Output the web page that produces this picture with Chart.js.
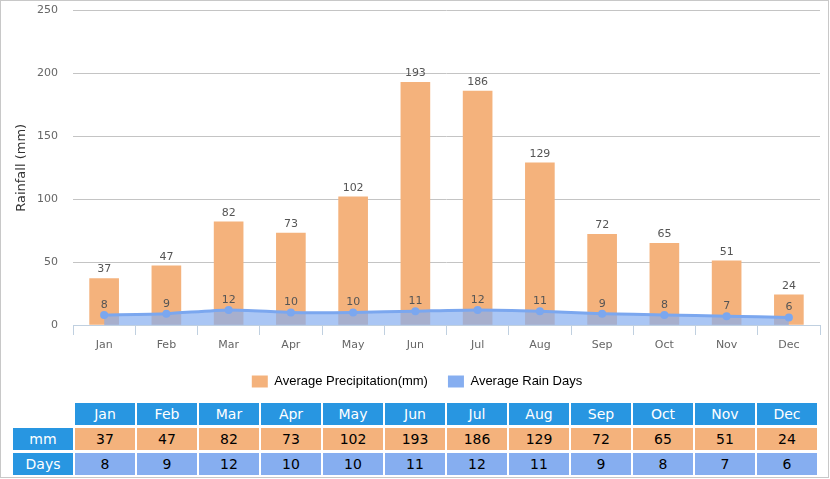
<!DOCTYPE html>
<html>
<head>
<meta charset="utf-8">
<script src="https://cdn.jsdelivr.net/npm/chart.js@4/dist/chart.umd.min.js"></script>
<style>
    body { margin: 0; background: #fff; }
    .wrap {
        position: relative;
        width: 827px;
        height: 476px;
        border: 1px solid #c8c8c8;
        font-family: "DejaVu Sans", Verdana, sans-serif;
    }
    .chart-box { position: absolute; left: 0; top: 0; width: 827px; height: 397px; }
    table.data {
        position: absolute;
        left: 10px;
        top: 399px;
        border-collapse: separate;
        border-spacing: 2px 3px;
        font-size: 14px;
    }
    table.data td { width: 60px; height: 22px; padding: 0; text-align: center; }
    td.head { background: #2896e1; color: #fff; }
    td.mm { background: #f4b27c; color: #000; }
    td.days { background: #86aef0; color: #000; }
</style>
</head>
<body>
<div class="wrap">
    <div class="chart-box"><canvas id="myChart"></canvas></div>
    <table class="data"></table>
</div>
<script>
const months = ["Jan", "Feb", "Mar", "Apr", "May", "Jun", "Jul", "Aug", "Sep", "Oct", "Nov", "Dec"];
const rainMm = [37, 47, 82, 73, 102, 193, 186, 129, 72, 65, 51, 24];
const rainDays = [8, 9, 12, 10, 10, 11, 12, 11, 9, 8, 7, 6];
const yTicks = [0, 50, 100, 150, 200, 250];

const orange = "#f4b27c";
const blue = "#7ba7ef";

// draws the numbers above bars and points
const valueLabels = {
    id: "valueLabels",
    afterDatasetsDraw(chart) {
        const ctx = chart.ctx;
        ctx.save();
        ctx.font = "11px 'DejaVu Sans', sans-serif";
        ctx.fillStyle = "#555";
        ctx.textAlign = "center";
        ctx.textBaseline = "alphabetic";
        chart.data.datasets.forEach((ds, i) => {
            const meta = chart.getDatasetMeta(i);
            meta.data.forEach((el, j) => {
                const off = ds.type === "line" ? 7 : 6;
                ctx.fillText(ds.data[j], el.x, el.y - off);
            });
        });
        ctx.restore();
    }
};

const data = {
    labels: months,
    datasets: [
        {
            type: "line",
            label: "Average Rain Days",
            data: rainDays,
            borderColor: blue,
            backgroundColor: "rgba(134, 174, 240, 0.7)",
            borderWidth: 3,
            pointRadius: 4,
            pointBackgroundColor: blue,
            pointBorderWidth: 0,
            tension: 0.2,
            fill: "origin",
            order: 0
        },
        {
            type: "bar",
            label: "Average Precipitation(mm)",
            data: rainMm,
            backgroundColor: orange,
            barThickness: 29,
            order: 1
        }
    ]
};

const config = {
    data: data,
    options: {
        responsive: true,
        maintainAspectRatio: false,
        animation: false,
        layout: { padding: { top: 2, right: 8, left: 13, bottom: 0 } },
        plugins: {
            tooltip: { enabled: false },
            legend: {
                position: "bottom",
                reverse: true,
                labels: {
                    boxWidth: 16,
                    boxHeight: 12,
                    padding: 20,
                    color: "#000",
                    font: { family: "'Liberation Sans', Arial, sans-serif", size: 13 },
                    generateLabels(chart) {
                        return chart.data.datasets.map((ds, i) => ({
                            text: ds.label,
                            fillStyle: ds.type === "line" ? "#86aef0" : orange,
                            strokeStyle: "transparent",
                            lineWidth: 0,
                            datasetIndex: i,
                            hidden: false
                        }));
                    }
                }
            }
        },
        scales: {
            x: {
                grid: {
                    offset: true,
                    drawOnChartArea: false,
                    drawTicks: true,
                    tickLength: 10,
                    color: "#c0d0e0"
                },
                border: { display: true, color: "#c0d0e0" },
                ticks: {
                    color: "#666",
                    padding: 4,
                    font: { family: "'DejaVu Sans', sans-serif", size: 11 }
                },
                afterFit(scale) { scale.height = 30; }
            },
            y: {
                min: 0,
                max: 250,
                afterBuildTicks(scale) { scale.ticks = yTicks.map(v => ({ value: v })); },
                grid: { color: "#c4c4c4", drawTicks: true, tickLength: 12, tickColor: "transparent" },
                border: { display: false },
                ticks: {
                    color: "#666",
                    padding: 3,
                    font: { family: "'DejaVu Sans', sans-serif", size: 11 }
                },
                title: {
                    display: true,
                    text: "Rainfall (mm)",
                    color: "#333",
                    padding: { top: 0, bottom: 0 },
                    font: { family: "'DejaVu Sans', sans-serif", size: 13 }
                },
                afterFit(scale) { scale.width = 59; }
            }
        }
    },
    plugins: [valueLabels]
};

new Chart(document.getElementById("myChart"), config);

// table under the chart
const table = document.querySelector("table.data");
let html = "<tr><td></td>" + months.map(m => `<td class="head">${m}</td>`).join("") + "</tr>";
html += `<tr><td class="head">mm</td>` + rainMm.map(v => `<td class="mm">${v}</td>`).join("") + "</tr>";
html += `<tr><td class="head">Days</td>` + rainDays.map(v => `<td class="days">${v}</td>`).join("") + "</tr>";
table.innerHTML = html;
</script>
</body>
</html>
